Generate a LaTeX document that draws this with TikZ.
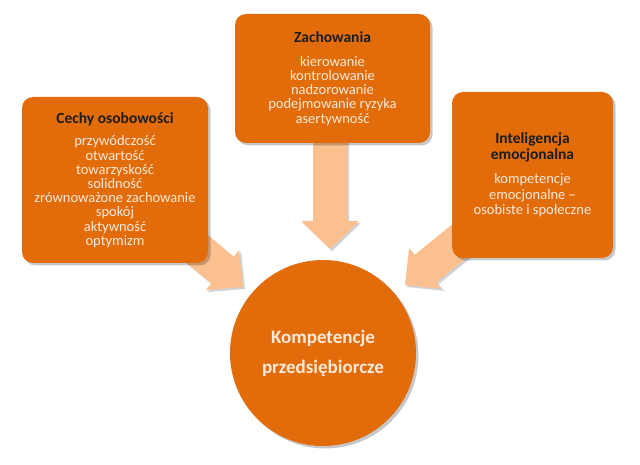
\documentclass[tikz,border=0pt]{standalone}
\usepackage{fontspec}
\setmainfont{Carlito}
\usetikzlibrary{shadows}
\definecolor{boxorange}{HTML}{E36C0A}
\definecolor{arrowpeach}{HTML}{FAC090}
\definecolor{bodytext}{HTML}{FDEADA}
\definecolor{titletext}{HTML}{1C1C1C}
\tikzset{
  boxshadow/.style={drop shadow={shadow xshift=2.5pt,shadow yshift=-2.5pt,opacity=0.22,fill=black}},
  infobox/.style={fill=boxorange,rounded corners=11pt,boxshadow,align=center,inner sep=0pt,
    text=bodytext,font=\fontsize{14.5}{14.2}\selectfont},
  blockarrow/.style={fill=arrowpeach,drop shadow={shadow xshift=2pt,shadow yshift=-2pt,opacity=0.18,fill=black}},
  centre/.style={circle,fill=boxorange,boxshadow,align=center,text=bodytext,
    font=\fontsize{19}{30}\selectfont\bfseries},
}
\newcommand{\ttl}[1]{{\fontsize{15.5}{14.2}\selectfont\bfseries\color{titletext}#1}}
\begin{document}
\begin{tikzpicture}[x=1pt,y=-1pt]
\useasboundingbox (0,0) rectangle (640,465);
% block arrows (drawn first, under the boxes)
\fill[blockarrow] (313,125) -- (347,125) -- (347,221) -- (359,221) -- (330,249)
  -- (301,221) -- (313,221) -- cycle;
\fill[blockarrow] (172.1,205.3) -- (233.7,256.5) -- (239.1,250) -- (243,287)
  -- (205.9,290) -- (211.3,283.5) -- (149.7,232.3) -- cycle;
\fill[blockarrow] (498.9,231.7) -- (436.5,282.2) -- (441.9,288.8) -- (405,285)
  -- (409.1,248.2) -- (414.5,254.9) -- (476.9,204.5) -- cycle;
% boxes
\node[infobox,minimum width=186pt,minimum height=166pt] (cechy) at (115,180)
  {\ttl{Cechy osobowości}\\[8.5pt]
   przywódczość\\ otwartość\\ towarzyskość\\ solidność\\ zrównoważone zachowanie\\
   spokój\\ aktywność\\ optymizm};
\node[infobox,minimum width=195pt,minimum height=129pt] (zach) at (332.5,78.5)
  {\ttl{Zachowania}\\[9.5pt]
   kierowanie\\ kontrolowanie\\ nadzorowanie\\ podejmowanie ryzyka\\ asertywność};
\node[infobox,minimum width=161pt,minimum height=166pt,font=\fontsize{14.5}{15.5}\selectfont] (intel) at (532.5,175)
  {\ttl{Inteligencja}\\ \ttl{emocjonalna}\\[9pt]
   kompetencje\\ emocjonalne –\\ osobiste i społeczne};
% centre
\node[centre,minimum size=186pt,inner sep=0pt] (komp) at (323,353)
  {Kompetencje\\ przedsiębiorcze};
\end{tikzpicture}
\end{document}
